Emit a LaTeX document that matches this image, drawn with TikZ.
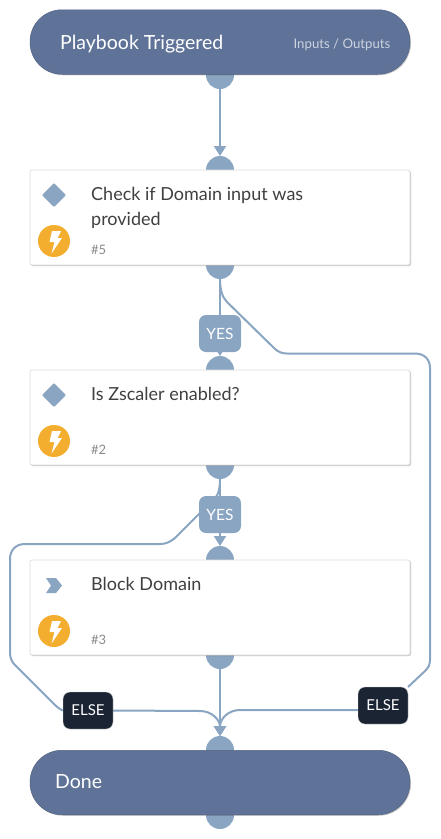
\documentclass[tikz,border=0pt]{standalone}
\usepackage{fontspec}
\setmainfont{Lato}
\usetikzlibrary{shadows,arrows.meta,backgrounds}
\definecolor{pill}{HTML}{5F7399}
\definecolor{port}{HTML}{8AA5C2}
\definecolor{ink}{HTML}{404040}
\definecolor{num}{HTML}{8A8A8A}
\definecolor{bolt}{HTML}{F3AE2F}
\definecolor{dark}{HTML}{1B2433}
\tikzset{
  softshadow/.style={drop shadow={opacity=.3,shadow xshift=1pt,shadow yshift=-1pt,fill=black!70}},
  portdot/.style={circle,fill=port,minimum size=28pt,inner sep=0pt,outer sep=0pt},
  pillbox/.style={draw=pill!85!black,line width=.5pt,fill=pill,rounded corners=32pt,minimum width=380pt,minimum height=64.5pt,inner sep=0pt,outer sep=0pt,softshadow},
  cardbox/.style={draw=black!14,line width=.7pt,fill=white,rounded corners=2pt,minimum width=380pt,minimum height=95pt,inner sep=0pt,outer sep=0pt,softshadow},
  tagyes/.style={fill=port,rounded corners=7pt,minimum width=42pt,minimum height=37pt,inner sep=0pt,outer sep=0pt,text=white,font=\fontsize{15.5}{16}\selectfont},
  tagelse/.style={fill=dark,draw=black!15,line width=.3pt,rounded corners=7pt,minimum width=50pt,minimum height=37pt,inner sep=0pt,outer sep=0pt,text=white,font=\fontsize{15}{16}\selectfont},
  wire/.style={draw=port,line width=2pt},
  tip/.style={wire,-{Triangle[width=12pt,length=10pt,fill=port]}},
  title/.style={anchor=base west,inner sep=0pt,text=ink,font=\fontsize{18}{20}\selectfont},
  stepnum/.style={anchor=base west,inner sep=0pt,text=num,font=\fontsize{13}{14}\selectfont},
  pilltext/.style={anchor=base west,inner sep=0pt,text=white,font=\fontsize{19.5}{20}\selectfont},
  pillnote/.style={anchor=base east,inner sep=0pt,text=white!68!pill,font=\fontsize{13.2}{15}\selectfont},
}
\newcommand{\boltbadge}[2]{%
  \node[circle,fill=bolt,minimum size=32pt,inner sep=0pt] (#1) at (54,#2) {};
  \fill[white,shift={(54,#2)}] (-2,-10) -- (7,-10) -- (3.5,-3) -- (8,-3) -- (-2.5,12.5) -- (0.5,1) -- (-4.5,1) -- cycle;
}
\newcommand{\diamondicon}[1]{%
  \fill[port,rounded corners=1pt,shift={(54,#1)}] (0,-12) -- (12,0) -- (0,12) -- (-12,0) -- cycle;
}
\begin{document}
\begin{tikzpicture}[x=1pt,y=-1pt]
\useasboundingbox (0,0) rectangle (440,839);
% ports
\node[portdot] (p0b) at (220,75) {};
\node[portdot] (p5t) at (220,170) {};
\node[portdot] (p5b) at (220,265) {};
\node[portdot] (p2t) at (220,370) {};
\node[portdot] (p2b) at (220,465) {};
\node[portdot] (p3t) at (220,560) {};
\node[portdot] (p3b) at (220,655) {};
\node[portdot] (pdt) at (220,750) {};
\node[portdot] (pdb) at (220,815) {};
% tags
\node[tagyes] (y1) at (220,333.5) {YES};
\node[tagyes] (y2) at (220,514.5) {YES};
\node[tagelse] (e1) at (88,710.5) {ELSE};
\node[tagelse] (e2) at (383,705.5) {ELSE};
% connectors
\begin{pgfonlayer}{background}
\fill[white] (0,0) rectangle (440,839);
\draw[tip] (p0b.south) -- (p5t.north);
\draw[wire] (p5b.south) -- (y1.north);
\draw[tip] (y1.south) -- (p2t.north);
\draw[wire] (p2b.south) -- (y2.north);
\draw[tip] (y2.south) -- (p3t.north);
\draw[tip] (p3b.south) -- (pdt.north);
\coordinate (r1) at (287,353.5);
\coordinate (r2) at (415,353.5);
\coordinate (r3) at (430,368);
\coordinate (r4) at (430,660);
\coordinate (r5) at (425,671);
\draw[wire] (p5b.south) .. controls (220,289) and (222,297) .. (227,302) -- (274,348) .. controls (278,352) and (282,353.5) .. (r1) -- (r2) .. controls (425,353.5) and (430,360) .. (r3) -- (r4) .. controls (430,665) and (428,668) .. (r5) -- (e2.north east);
\coordinate (l1) at (160,544);
\coordinate (l2) at (25,544);
\coordinate (l3) at (10,559);
\coordinate (l4) at (10,653);
\coordinate (l5) at (15,665);
\draw[wire] (p2b.south) .. controls (220,487) and (219,493) .. (216,497) -- (175,538) .. controls (170,542) and (166,544) .. (l1) -- (l2) .. controls (15,544) and (10,551) .. (l3) -- (l4) .. controls (10,658) and (12,662) .. (l5) -- (52,702) .. controls (56,706) and (59,709) .. (e1.west);
\coordinate (m1) at (200,711);
\draw[tip] (e1.east) -- (m1) .. controls (212,711) and (220,720) .. (pdt.north);
\coordinate (m2) at (240,710);
\draw[tip] (e2.west |- m2) -- (m2) .. controls (228,710) and (220,719) .. (pdt.north);
\end{pgfonlayer}
% start and end
\node[pillbox] (start) at (220,42) {};
\node[pilltext] (starttxt) at (60,49) {Playbook Triggered};
\node[pillnote] (startio) at (390.5,48) {Inputs / Outputs};
\node[pillbox] (done) at (220,782.5) {};
\node[pilltext] (donetxt) at (55,788.5) {Done};
% card 5
\node[cardbox] (c5) at (220,217.5) {};
\diamondicon{195}
\boltbadge{b5}{241}
\node[title] (t5a) at (91,200) {Check if Domain input was};
\node[title] (t5b) at (91,225) {provided};
\node[stepnum] (n5) at (91,254) {\#5};
% card 2
\node[cardbox] (c2) at (220,417.5) {};
\diamondicon{395}
\boltbadge{b2}{441}
\node[title] (t2) at (91,400) {Is Zscaler enabled?};
\node[stepnum] (n2) at (91,454) {\#2};
% card 3
\node[cardbox] (c3) at (220,607.5) {};
\fill[port] (46,578) -- (56,578) -- (62,585.5) -- (56,593) -- (46,593) -- (51,585.5) -- cycle;
\boltbadge{b3}{631}
\node[title] (t3) at (91,590) {Block Domain};
\node[stepnum] (n3) at (91,644) {\#3};
\end{tikzpicture}
\end{document}
